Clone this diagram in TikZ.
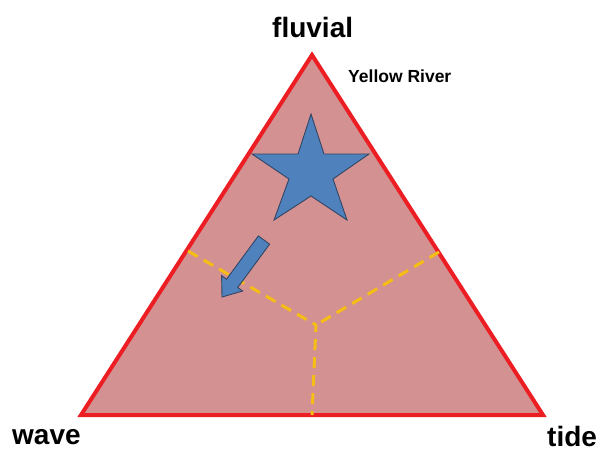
\documentclass[tikz,border=0pt]{standalone}
\usepackage{fontspec}
\setmainfont{Liberation Sans}
\definecolor{trifill}{RGB}{211,145,145}
\definecolor{trired}{RGB}{236,30,36}
\definecolor{dashor}{RGB}{246,190,20}
\definecolor{starblue}{RGB}{79,129,189}
\definecolor{starline}{RGB}{50,70,100}
\tikzset{
  tri/.style={fill=trifill, draw=trired, line width=4pt, line join=miter},
  divider/.style={draw=dashor, line width=3pt, dash pattern=on 11pt off 7pt, line join=round},
  blueshape/.style={fill=starblue, draw=starline, line width=0.9pt, line join=miter},
  lbl/.style={font=\bfseries\fontsize{28}{32}\selectfont, inner sep=0pt, anchor=base west},
  smalllbl/.style={font=\bfseries\fontsize{17.5}{20}\selectfont, inner sep=0pt, anchor=base west}
}
\begin{document}
\begin{tikzpicture}[x=1pt, y=-1pt]
\useasboundingbox (0,0) rectangle (601,451);
\coordinate (top) at (312,55);
\coordinate (bl) at (81,415);
\coordinate (br) at (543,415);
\coordinate (ctr) at (316,325);
\coordinate (dl) at (188,251);
\coordinate (dr) at (439,252);
\coordinate (db) at (312,415);
\draw[tri] (top) -- (bl) -- (br) -- cycle;
\draw[divider] (dl) -- (ctr) -- (db);
\draw[divider] (dr) -- (ctr);
% star
\draw[blueshape] (311,114) -- (324,154) -- (369,154) -- (333,179) -- (347,220) -- (311,196) -- (274,220) -- (289,179) -- (252,154) -- (298,154) -- cycle;
% block arrow
\draw[blueshape] (258.4,235.9) -- (269.6,244.2) -- (237.7,287.5) -- (242.6,291) -- (222,297) -- (221.6,275.6) -- (226.5,279.2) -- cycle;
\node[lbl] (fluvial) at (272,37) {fluvial};
\node[smalllbl] (yr) at (348,82) {Yellow River};
\node[lbl] (wave) at (12,444) {wave};
\node[lbl] (tide) at (547,446) {tide};
\end{tikzpicture}
\end{document}
